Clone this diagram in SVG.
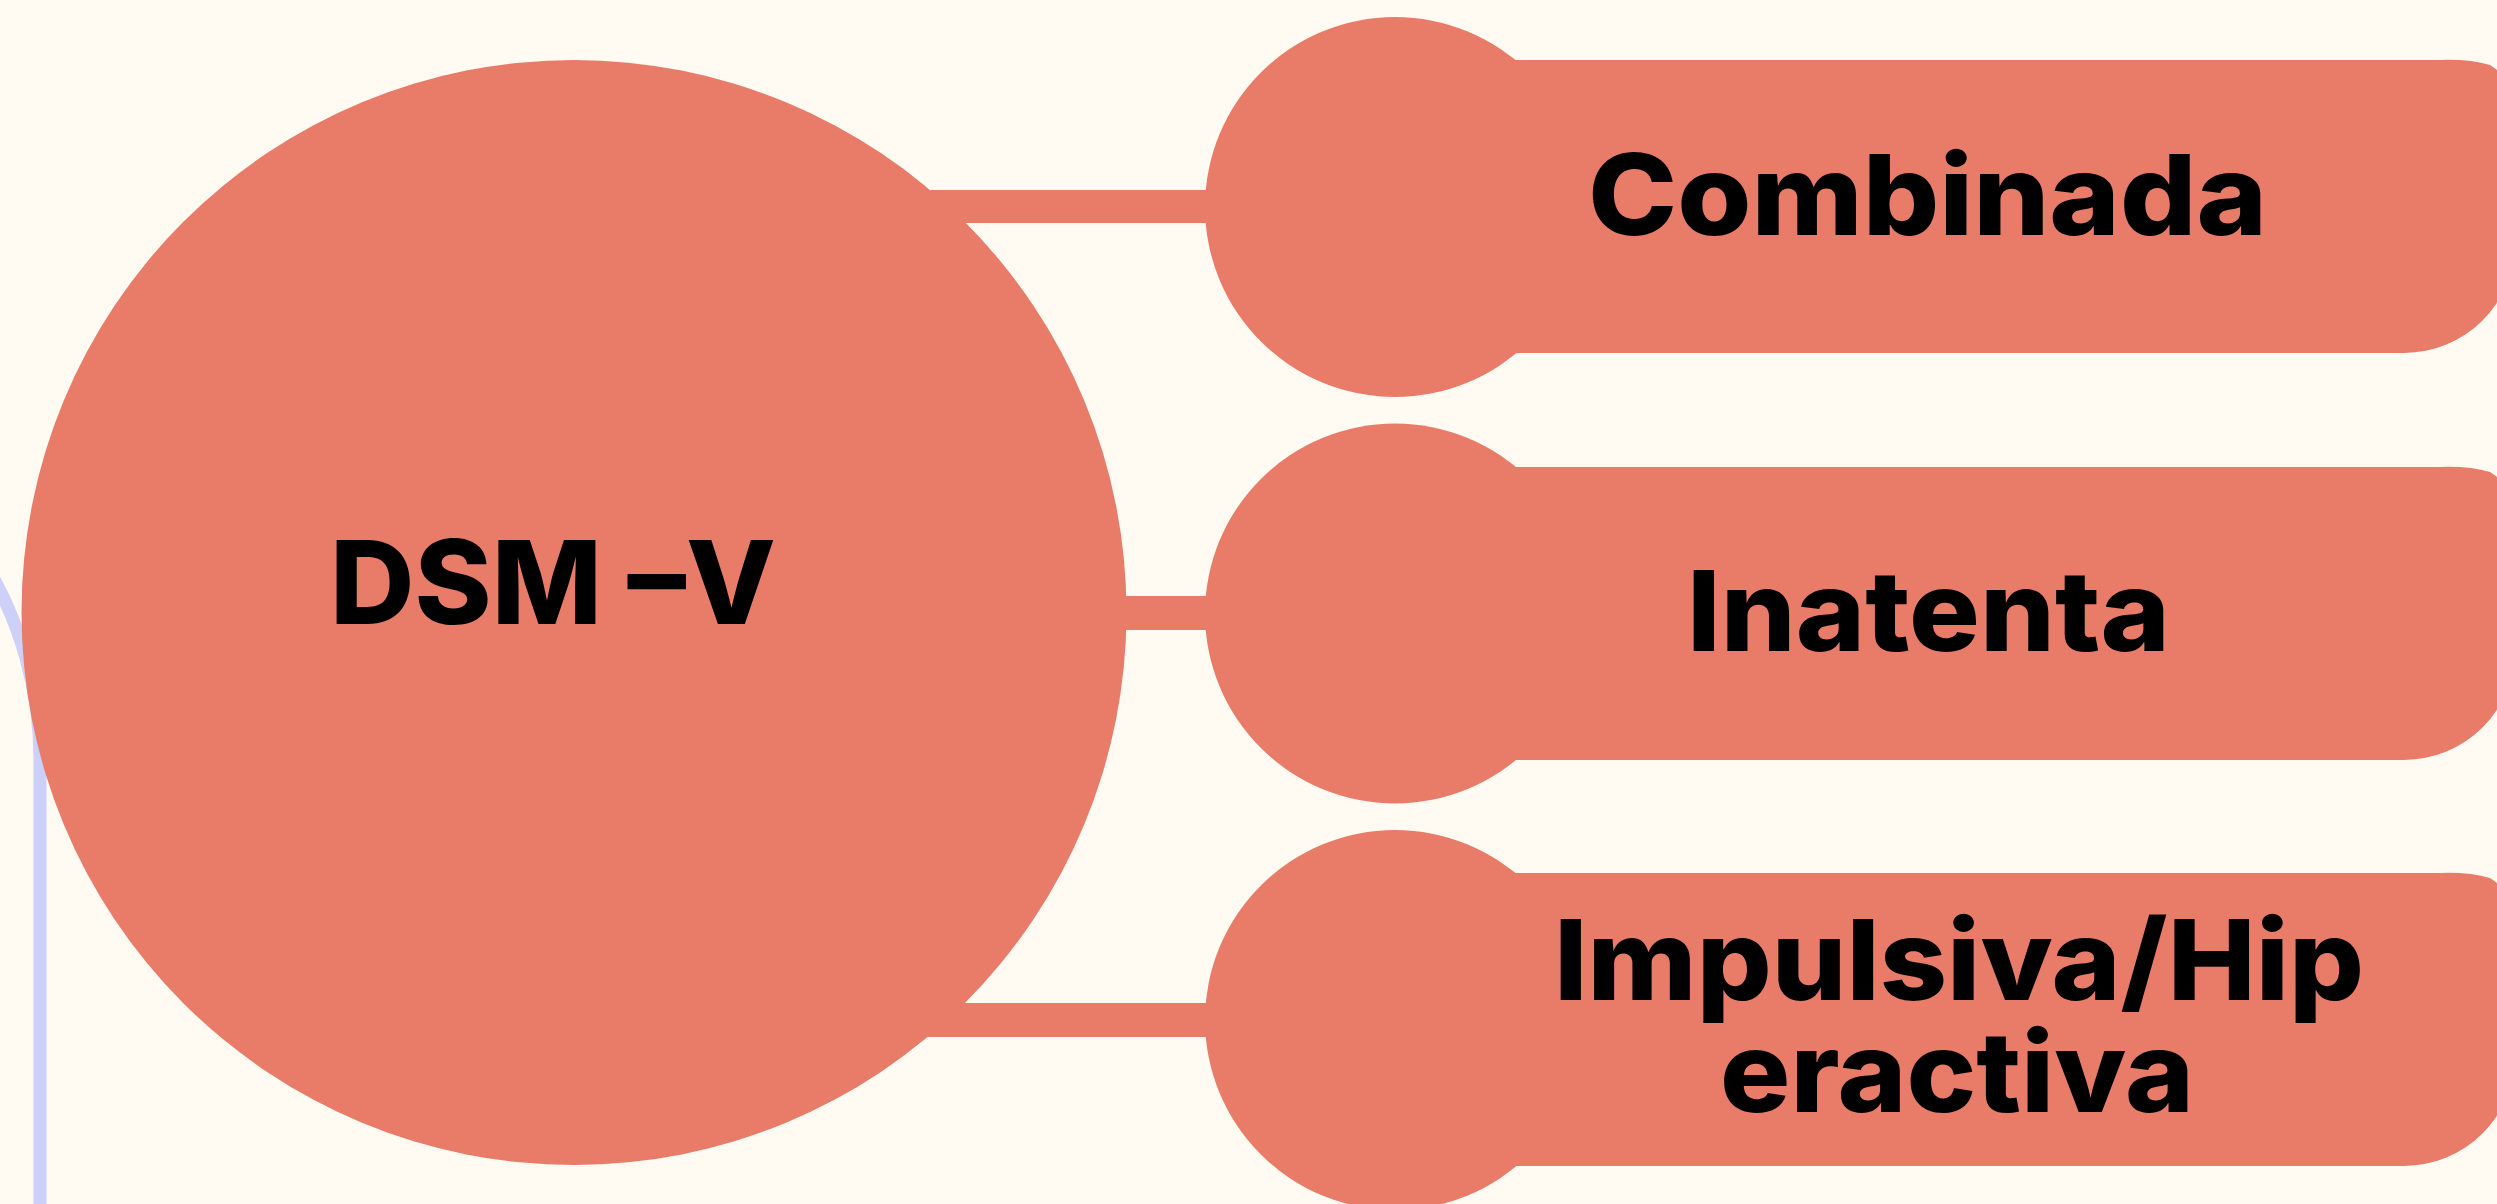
<svg xmlns="http://www.w3.org/2000/svg" width="2497" height="1204" viewBox="0 0 2497 1204">
  <style>
    .shape { fill: #E97C69; }
    .label { font-family: Inter, "Liberation Sans", sans-serif; font-weight: 800; fill: #000000; }
    .deco { fill: none; stroke: #CDD0F8; stroke-width: 13; }
  </style>
  <defs>
    <!-- Label bar: flat left end, rounded right end running off the page -->
    <path id="bar" d="M 1515 0 H 2440 Q 2470 -1 2490 5 Q 2515 20 2515 60 V 182 A 111 111 0 0 1 2404 293 H 1515 Z"/>
  </defs>

  <rect x="0" y="0" width="2497" height="1204" fill="#FFFAF2"/>

  <!-- faint decorative outline on the left -->
  <path class="deco" d="M 40 1214 V 760 A 380 380 0 0 0 -14 565"/>

  <!-- connectors -->
  <g id="connectors" class="shape">
    <rect x="900" y="190" width="320" height="33"/>
    <rect x="1000" y="596" width="220" height="34"/>
    <rect x="900" y="1003" width="320" height="34"/>
  </g>

  <!-- central node -->
  <g id="node-dsm">
    <circle class="shape" cx="574" cy="612.5" r="552.5"/>
    <text class="label" x="330" y="624" font-size="116" textLength="446" lengthAdjust="spacingAndGlyphs">DSM –V</text>
  </g>

  <g id="node-combinada">
    <circle class="shape" cx="1395" cy="207" r="190"/>
    <use class="shape" href="#bar" y="60"/>
    <text class="label" x="1588" y="235" font-size="112" textLength="679" lengthAdjust="spacingAndGlyphs">Combinada</text>
  </g>

  <g id="node-inatenta">
    <circle class="shape" cx="1395" cy="613.5" r="190"/>
    <use class="shape" href="#bar" y="467"/>
    <text class="label" x="1687" y="651" font-size="112" textLength="483" lengthAdjust="spacingAndGlyphs">Inatenta</text>
  </g>

  <g id="node-impulsiva">
    <circle class="shape" cx="1395" cy="1020" r="190"/>
    <use class="shape" href="#bar" y="873"/>
    <text class="label" font-size="112">
      <tspan x="1554" y="1000" textLength="810" lengthAdjust="spacingAndGlyphs">Impulsiva/Hip</tspan>
      <tspan x="1720" y="1112" textLength="474" lengthAdjust="spacingAndGlyphs">eractiva</tspan>
    </text>
  </g>
</svg>
